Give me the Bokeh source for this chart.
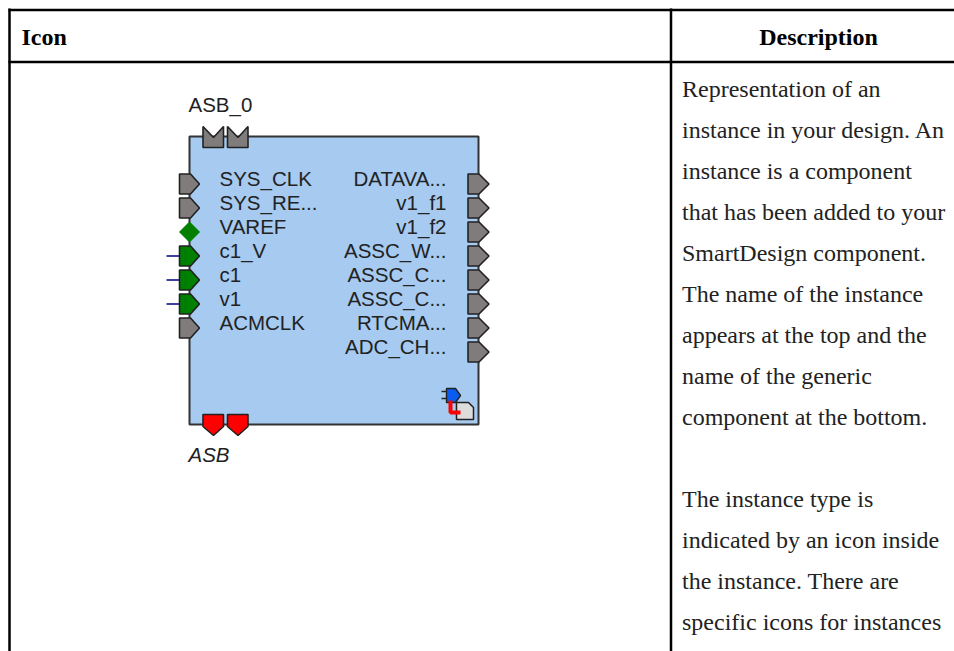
from bokeh.plotting import figure
from bokeh.models import Range1d
from bokeh.core.properties import value
from bokeh.embed import file_html
from bokeh.resources import INLINE

header = ["Icon", "Description"]
desc_lines = ["Representation of an", "instance in your design. An", "instance is a component",
              "that has been added to your", "SmartDesign component.", "The name of the instance",
              "appears at the top and the", "name of the generic", "component at the bottom.", "",
              "The instance type is", "indicated by an icon inside", "the instance. There are",
              "specific icons for instances"]
instance_name = "ASB_0"
generic_name = "ASB"
left_pins = ["SYS_CLK", "SYS_RE...", "VAREF", "c1_V", "c1", "v1", "ACMCLK"]
left_kinds = ["gray", "gray", "diamond", "green", "green", "green", "gray"]
right_pins = ["DATAVA...", "v1_f1", "v1_f2", "ASSC_W...", "ASSC_C...", "ASSC_C...", "RTCMA...", "ADC_CH..."]

W, H = 954, 651
p = figure(width=W, height=H, output_backend="svg", toolbar_location=None,
           x_range=Range1d(0, W), y_range=Range1d(H, 0),
           min_border=0, outline_line_color=None)
p.axis.visible = False
p.grid.visible = False
p.background_fill_color = "white"
p.border_fill_color = "white"

SER = value("Liberation Serif")
SAN = value("Liberation Sans")
SAN_SIZE = "20.5px"
BODY = "24px"

# table rules
p.segment([8, 8, 9, 670.5], [9.5, 61.5, 8, 8], [W, W, 9, 670.5], [9.5, 61.5, H, H],
          line_color="black", line_width=2.5)
p.text([21], [36], text=[header[0]], text_font=SER, text_font_style="bold", text_font_size=BODY,
       text_baseline="middle", text_color="black")
p.text([818], [36], text=[header[1]], text_font=SER, text_font_style="bold", text_font_size=BODY,
       text_baseline="middle", text_align="center", text_color="black")
p.text([681.5] * len(desc_lines), [88.5 + 41 * i for i in range(len(desc_lines))], text=desc_lines,
       text_font=SER, text_font_size=BODY, text_baseline="middle", text_color="#222222")

# instance box
BL, BR, BT, BB = 189, 478, 136, 424
p.quad(left=[BL], right=[BR], top=[BT], bottom=[BB], fill_color="#A6CAF0", line_color="#333333", line_width=2)

PIN = "#807C7C"
EDGE = "#222222"


def pin_right(x, yc, color, width=20):
    p.patch([x, x + 11, x + width, x + 11, x], [yc - 10, yc - 10, yc, yc + 10, yc + 10],
            fill_color=color, line_color=EDGE, line_width=1.6)


for i, (name, kind) in enumerate(zip(left_pins, left_kinds)):
    yc = 183.5 + 24 * i
    if kind == "diamond":
        p.patch([179, 189, 199, 189], [yc, yc - 10, yc, yc + 10], fill_color="#007F00", line_color="#007F00")
    else:
        pin_right(179, yc, PIN if kind == "gray" else "#007F00")
    if kind == "green":
        p.segment([166], [yc], [179], [yc], line_color="#000080", line_width=1.5)
    p.text([219], [yc - 5.5], text=[name], text_font=SAN, text_font_size=SAN_SIZE, text_baseline="middle",
           text_color="#222222")

for i, name in enumerate(right_pins):
    yc = 183.5 + 24 * i
    pin_right(467.5, yc, PIN, 21)
    p.text([446], [yc - 5.5], text=[name], text_font=SAN, text_font_size=SAN_SIZE, text_baseline="middle",
           text_align="right", text_color="#222222")

for x in (202.5, 227):
    p.patch([x, x + 10.5, x + 20.5, x + 20.5, x], [126, 137, 126, 147, 147], fill_color=PIN, line_color=EDGE,
            line_width=1.6)
    p.patch([x, x + 20.5, x + 20.5, x + 10.5, x], [414, 414, 426, 435, 426], fill_color="#FF0000", line_color=EDGE,
            line_width=1.6)

p.text([188], [104], text=[instance_name], text_font=SAN, text_font_size=SAN_SIZE, text_baseline="middle",
       text_color="#222222")
p.text([188], [454], text=[generic_name], text_font=SAN, text_font_style="italic", text_font_size=SAN_SIZE,
       text_baseline="middle", text_color="#222222")

# instance-type icon
p.segment([441, 441], [391, 398], [447, 447], [391, 398], line_color="#222222", line_width=1.5)
p.patch([446, 455, 460, 455, 446], [388, 388, 395, 402, 402], fill_color="#0A5CF0", line_color="#222222", line_width=1.4)
p.patch([456, 468, 473, 473, 456], [402, 402, 407, 419, 419], fill_color="#DDDDDD", line_color="#222222", line_width=1.5)
p.line([450, 450, 460], [400, 412, 412], line_color="#FF0000", line_width=4)

open("out.html", "w").write(file_html(p, INLINE))
